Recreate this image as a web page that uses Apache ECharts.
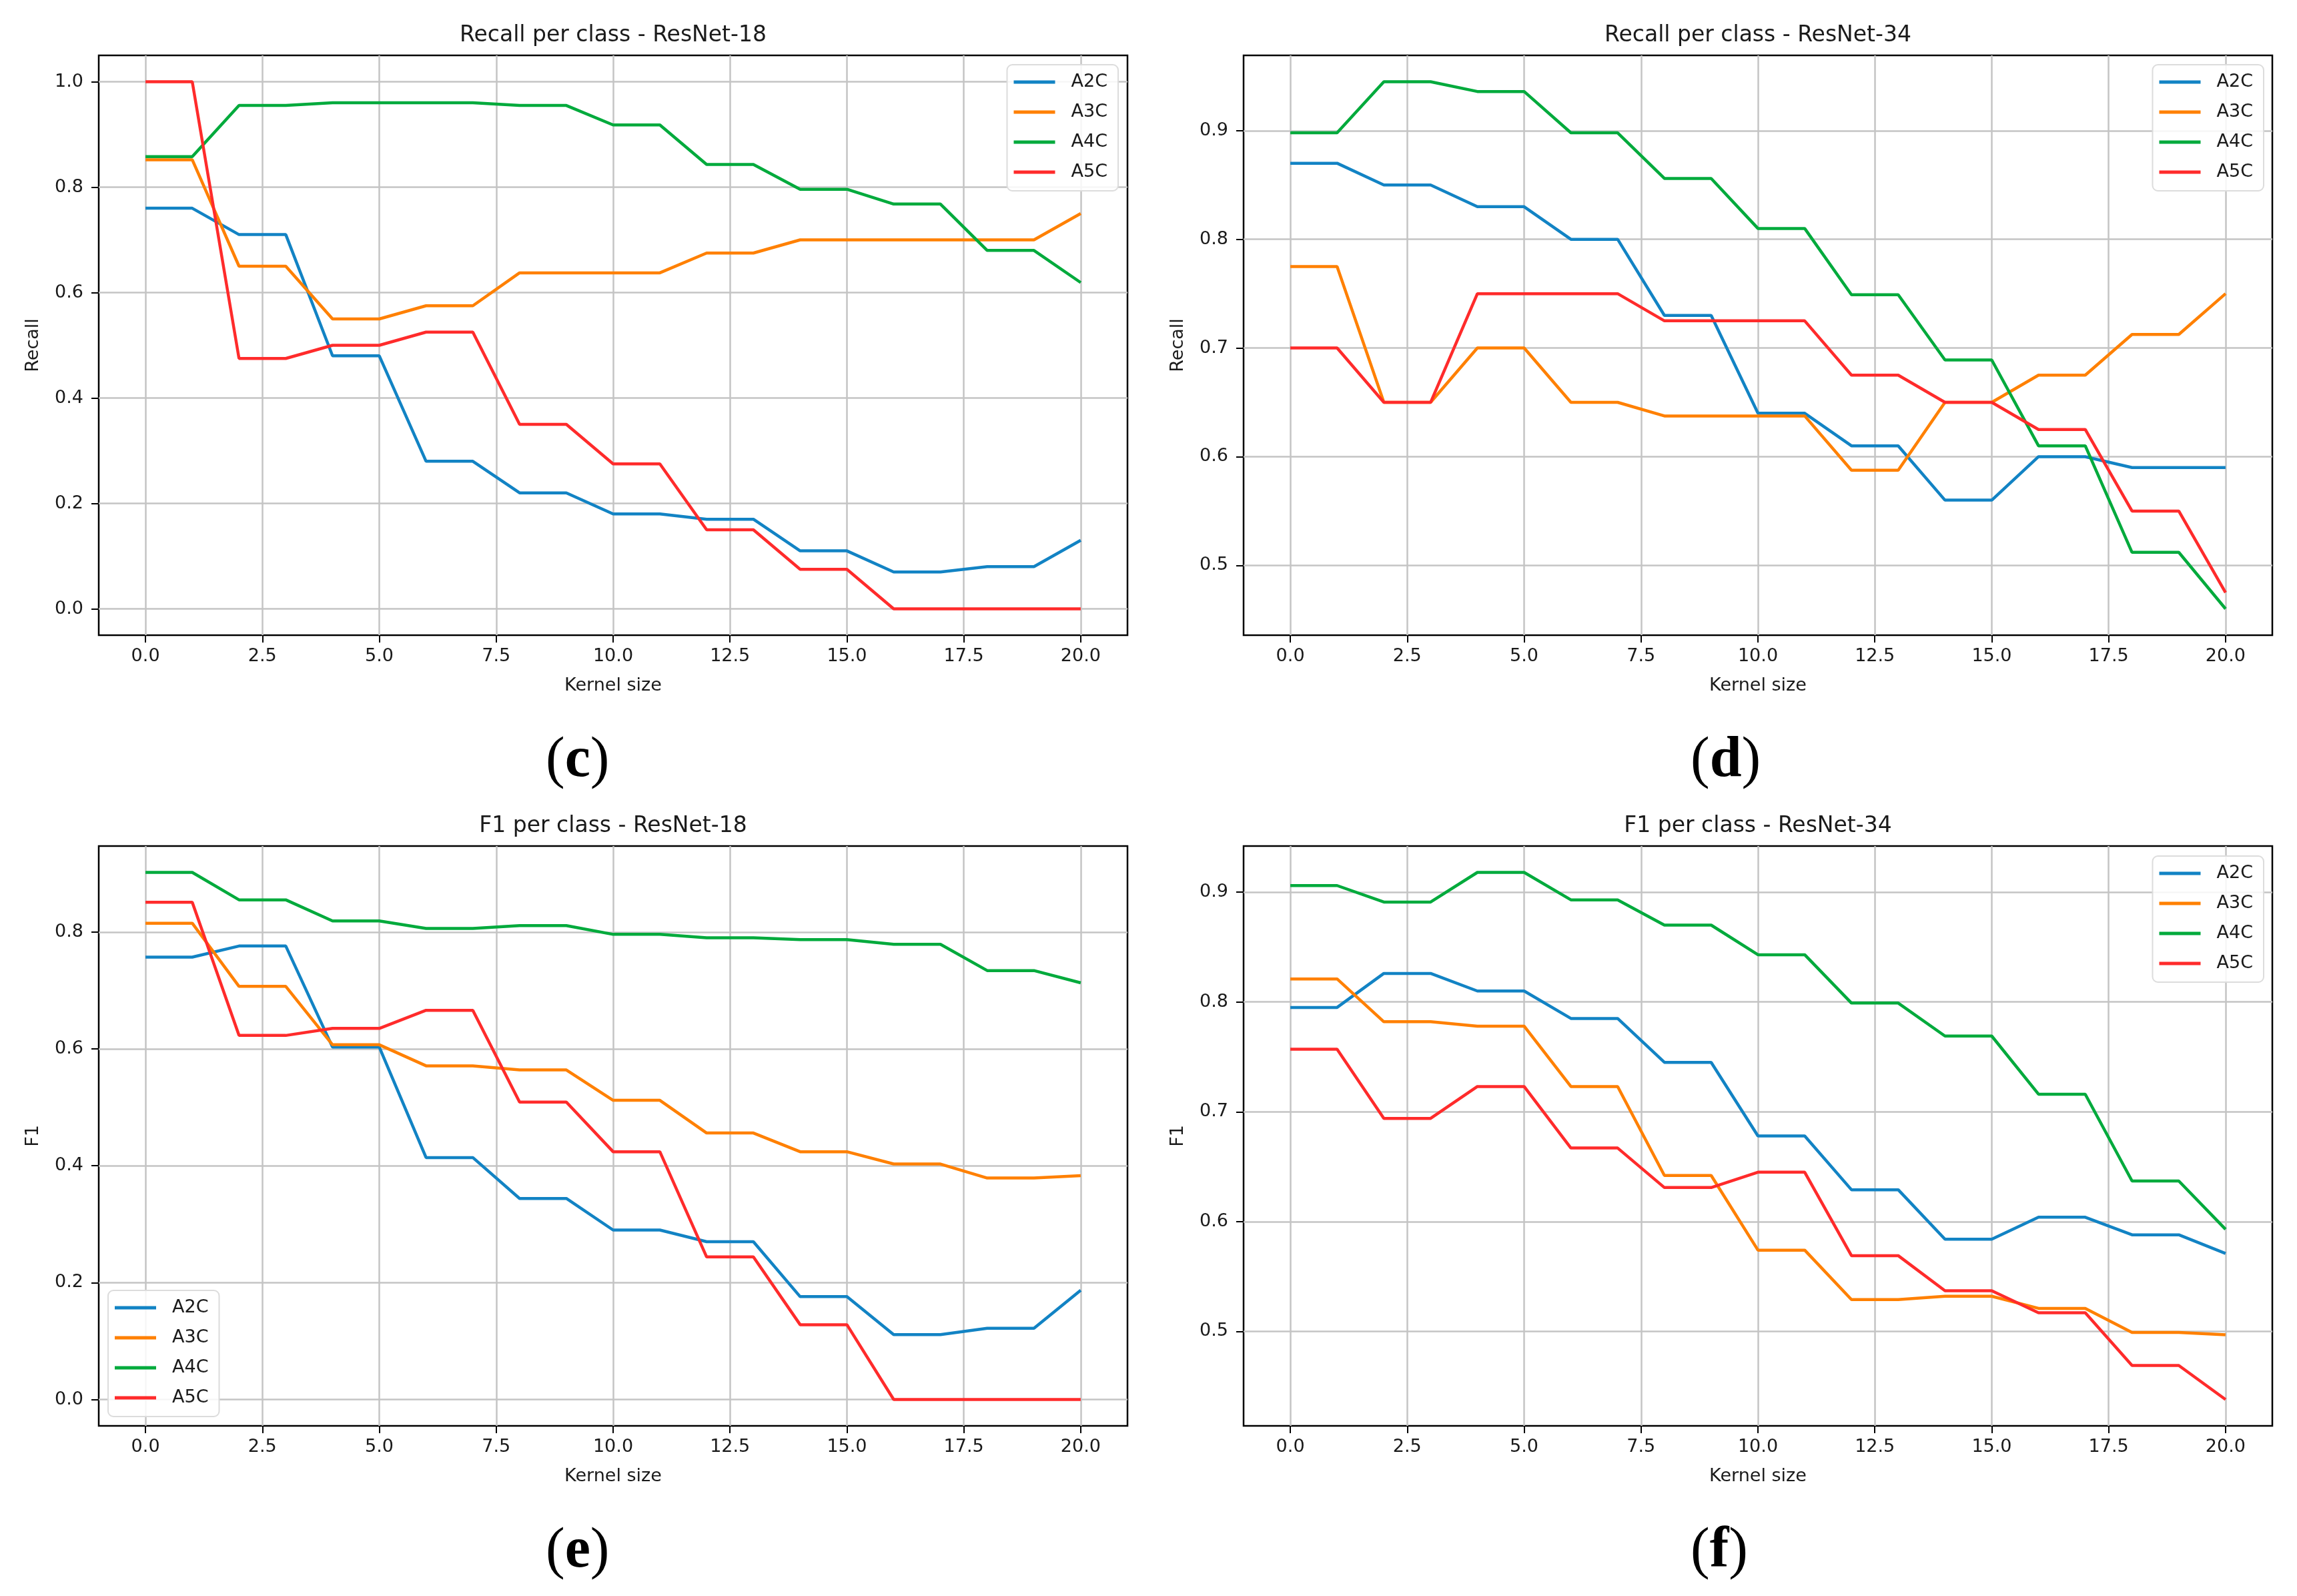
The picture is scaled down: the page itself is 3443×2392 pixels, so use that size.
<!DOCTYPE html>
<html style="height: 100%">
<head>
  <meta charset="utf-8">
</head>
<body style="height: 100%; margin: 0; background: #fff">
  <div id="container" style="width: 3443px; height: 2392px"></div>
  <script src="https://cdn.jsdelivr.net/npm/echarts@6/dist/echarts.min.js"></script>
  <script>
    // kernel sizes on the x axis
    var kernel = [0, 1, 2, 3, 4, 5, 6, 7, 8, 9, 10, 11, 12, 13, 14, 15, 16, 17, 18, 19, 20];
    var classes = ['A2C', 'A3C', 'A4C', 'A5C'];
    var colors = ['#1283c4', '#ff8000', '#00aa3c', '#ff2b2b'];

    var xTicks = [0, 2.5, 5, 7.5, 10, 12.5, 15, 17.5, 20];
    var yTicksRecall18 = [0, 0.2, 0.4, 0.6, 0.8, 1.0];
    var yTicksRecall34 = [0.5, 0.6, 0.7, 0.8, 0.9];
    var yTicksF1_18 = [0, 0.2, 0.4, 0.6, 0.8];
    var yTicksF1_34 = [0.5, 0.6, 0.7, 0.8, 0.9];

    // (c) Recall per class - ResNet-18
    var recall18A2C = [0.76, 0.76, 0.71, 0.71, 0.48, 0.48, 0.28, 0.28, 0.22, 0.22, 0.18, 0.18, 0.17, 0.17, 0.11, 0.11, 0.07, 0.07, 0.08, 0.08, 0.13];
    var recall18A3C = [0.852, 0.852, 0.65, 0.65, 0.55, 0.55, 0.575, 0.575, 0.6375, 0.6375, 0.6375, 0.6375, 0.675, 0.675, 0.7, 0.7, 0.7, 0.7, 0.7, 0.7, 0.75];
    var recall18A4C = [0.858, 0.858, 0.955, 0.955, 0.96, 0.96, 0.96, 0.96, 0.955, 0.955, 0.918, 0.918, 0.843, 0.843, 0.796, 0.796, 0.768, 0.768, 0.68, 0.68, 0.619];
    var recall18A5C = [1.0, 1.0, 0.475, 0.475, 0.5, 0.5, 0.525, 0.525, 0.35, 0.35, 0.275, 0.275, 0.15, 0.15, 0.075, 0.075, 0, 0, 0, 0, 0];

    // (d) Recall per class - ResNet-34
    var recall34A2C = [0.87, 0.87, 0.85, 0.85, 0.83, 0.83, 0.80, 0.80, 0.73, 0.73, 0.64, 0.64, 0.61, 0.61, 0.56, 0.56, 0.60, 0.60, 0.59, 0.59, 0.59];
    var recall34A3C = [0.775, 0.775, 0.65, 0.65, 0.70, 0.70, 0.65, 0.65, 0.6375, 0.6375, 0.6375, 0.6375, 0.5875, 0.5875, 0.65, 0.65, 0.675, 0.675, 0.7125, 0.7125, 0.75];
    var recall34A4C = [0.898, 0.898, 0.945, 0.945, 0.936, 0.936, 0.898, 0.898, 0.856, 0.856, 0.81, 0.81, 0.749, 0.749, 0.689, 0.689, 0.61, 0.61, 0.512, 0.512, 0.46];
    var recall34A5C = [0.70, 0.70, 0.65, 0.65, 0.75, 0.75, 0.75, 0.75, 0.725, 0.725, 0.725, 0.725, 0.675, 0.675, 0.65, 0.65, 0.625, 0.625, 0.55, 0.55, 0.475];

    // (e) F1 per class - ResNet-18
    var f1_18A2C = [0.757, 0.757, 0.776, 0.776, 0.603, 0.603, 0.414, 0.414, 0.344, 0.344, 0.290, 0.290, 0.270, 0.270, 0.176, 0.176, 0.111, 0.111, 0.122, 0.122, 0.187];
    var f1_18A3C = [0.815, 0.815, 0.707, 0.707, 0.607, 0.607, 0.571, 0.571, 0.564, 0.564, 0.512, 0.512, 0.456, 0.456, 0.424, 0.424, 0.403, 0.403, 0.379, 0.379, 0.383];
    var f1_18A4C = [0.902, 0.902, 0.855, 0.855, 0.819, 0.819, 0.806, 0.806, 0.811, 0.811, 0.796, 0.796, 0.790, 0.790, 0.787, 0.787, 0.779, 0.779, 0.734, 0.734, 0.713];
    var f1_18A5C = [0.851, 0.851, 0.623, 0.623, 0.635, 0.635, 0.666, 0.666, 0.509, 0.509, 0.424, 0.424, 0.244, 0.244, 0.128, 0.128, 0, 0, 0, 0, 0];

    // (f) F1 per class - ResNet-34
    var f1_34A2C = [0.795, 0.795, 0.826, 0.826, 0.810, 0.810, 0.785, 0.785, 0.745, 0.745, 0.678, 0.678, 0.629, 0.629, 0.584, 0.584, 0.604, 0.604, 0.588, 0.588, 0.571];
    var f1_34A3C = [0.821, 0.821, 0.782, 0.782, 0.778, 0.778, 0.723, 0.723, 0.642, 0.642, 0.574, 0.574, 0.529, 0.529, 0.532, 0.532, 0.521, 0.521, 0.499, 0.499, 0.497];
    var f1_34A4C = [0.906, 0.906, 0.891, 0.891, 0.918, 0.918, 0.893, 0.893, 0.870, 0.870, 0.843, 0.843, 0.799, 0.799, 0.769, 0.769, 0.716, 0.716, 0.637, 0.637, 0.593];
    var f1_34A5C = [0.757, 0.757, 0.694, 0.694, 0.723, 0.723, 0.667, 0.667, 0.631, 0.631, 0.645, 0.645, 0.569, 0.569, 0.537, 0.537, 0.517, 0.517, 0.469, 0.469, 0.438];

    var panels = [
      { title: 'Recall per class - ResNet-18', yName: 'Recall', tag: 'c', yTicks: yTicksRecall18,
        series: [recall18A2C, recall18A3C, recall18A4C, recall18A5C],
        left: 148, top: 83, legend: { right: 1767, top: 97 } },
      { title: 'Recall per class - ResNet-34', yName: 'Recall', tag: 'd', yTicks: yTicksRecall34,
        series: [recall34A2C, recall34A3C, recall34A4C, recall34A5C],
        left: 1864, top: 83, legend: { right: 50, top: 97 } },
      { title: 'F1 per class - ResNet-18', yName: 'F1', tag: 'e', yTicks: yTicksF1_18,
        series: [f1_18A2C, f1_18A3C, f1_18A4C, f1_18A5C],
        left: 148, top: 1268, legend: { left: 162, bottom: 269 } },
      { title: 'F1 per class - ResNet-34', yName: 'F1', tag: 'f', yTicks: yTicksF1_34,
        series: [f1_34A2C, f1_34A3C, f1_34A4C, f1_34A5C],
        left: 1864, top: 1268, legend: { right: 50, top: 1283 } }
    ];

    var W = 1542, H = 869;
    var font = 'DejaVu Sans';
    var ink = '#1a1a1a';
    var gridColor = '#c4c4c4';

    var option = {
      backgroundColor: '#fff',
      animation: false,
      textStyle: { fontFamily: font },
      title: [], grid: [], xAxis: [], yAxis: [], legend: [], series: [], graphic: []
    };

    panels.forEach(function (p, i) {
      // matplotlib style 5% margins
      var all = [].concat.apply([], p.series);
      var lo = Math.min.apply(null, all), hi = Math.max.apply(null, all);
      var pad = (hi - lo) * 0.05;

      option.grid.push({
        left: p.left, top: p.top, width: W, height: H,
        show: true, borderColor: '#000', borderWidth: 2.5, backgroundColor: 'transparent'
      });
      option.title.push({
        text: p.title,
        left: p.left + W / 2, top: p.top - 30,
        textAlign: 'center', textVerticalAlign: 'middle', padding: 0,
        textStyle: { fontFamily: font, fontSize: 33, fontWeight: 'normal', color: ink }
      });
      option.xAxis.push({
        type: 'value', gridIndex: i, min: -1, max: 21,
        name: 'Kernel size', nameLocation: 'middle', nameGap: 62,
        nameTextStyle: { fontFamily: font, fontSize: 27, color: ink },
        axisLine: { show: false, onZero: false },
        axisTick: { show: true, inside: false, length: 11, customValues: xTicks,
          lineStyle: { color: '#000', width: 2 } },
        axisLabel: { show: true, margin: 18, customValues: xTicks, fontFamily: font, fontSize: 27, color: ink,
          formatter: function (v) { return v.toFixed(1); } },
        splitLine: { show: true, lineStyle: { color: gridColor, width: 2.5 } }
      });
      option.yAxis.push({
        type: 'value', gridIndex: i, min: lo - pad, max: hi + pad,
        name: p.yName, nameLocation: 'middle', nameGap: 85,
        nameTextStyle: { fontFamily: font, fontSize: 27, color: ink },
        axisLine: { show: false, onZero: false },
        axisTick: { show: true, inside: false, length: 11, customValues: p.yTicks,
          lineStyle: { color: '#000', width: 2 } },
        axisLabel: { show: true, margin: 23, customValues: p.yTicks, fontFamily: font, fontSize: 27, color: ink,
          formatter: function (v) { return v.toFixed(1); } },
        splitLine: { show: true, lineStyle: { color: gridColor, width: 2.5 } }
      });
      var lg = {
        orient: 'vertical', icon: 'rect', itemWidth: 62, itemHeight: 5, itemGap: 15,
        padding: [11, 16, 13, 10],
        backgroundColor: 'rgba(255,255,255,0.85)', borderColor: '#dcdcdc', borderWidth: 2, borderRadius: 8,
        textStyle: { fontFamily: font, fontSize: 27, color: ink, lineHeight: 30, padding: [0, 0, 0, 19] },
        data: classes
      };
      Object.keys(p.legend).forEach(function (k) { lg[k] = p.legend[k]; });
      option.legend.push(lg);

      p.series.forEach(function (vals, j) {
        option.series.push({
          name: classes[j], type: 'line', xAxisIndex: i, yAxisIndex: i,
          symbol: 'none', z: 3 + j,
          color: colors[j],
          lineStyle: { color: colors[j], width: 4.5 },
          data: kernel.map(function (k, n) { return [k, vals[n]]; })
        });
      });

      // panel caption, e.g. "(c)" with a bold letter
      option.graphic.push({
        type: 'text', left: p.left + W / 2 - 56 - 45, top: p.top + 1015,
        style: {
          text: '{p|(}{b|' + p.tag + '}{p|)}',
          rich: {
            p: { fontFamily: 'Liberation Serif', fontSize: 86, fill: '#000' },
            b: { fontFamily: 'Liberation Serif', fontSize: 86, fontWeight: 'bold', fill: '#000' }
          }
        }
      });
    });

    var chart = echarts.init(document.getElementById('container'));
    chart.setOption(option);
  </script>
</body>
</html>
